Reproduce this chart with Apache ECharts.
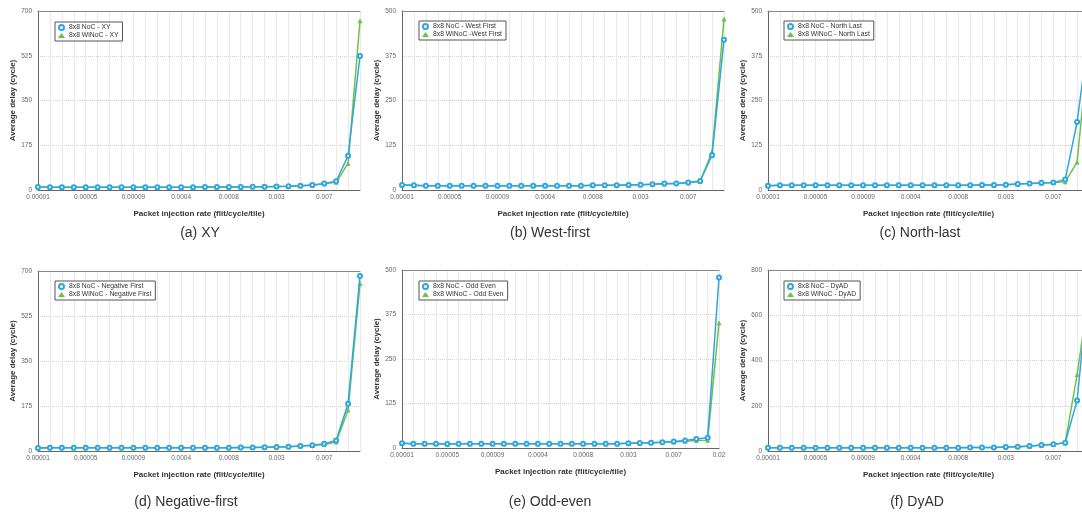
<!DOCTYPE html>
<html>
<head>
<meta charset="utf-8">
<script src="https://cdn.jsdelivr.net/npm/echarts@6/dist/echarts.min.js"></script>
<style>
html,body{margin:0;padding:0;background:#fff;}
#c{width:1082px;height:513px;}
</style>
</head>
<body>
<div id="c"></div>
<script>
// ---- Data ----
const categories = ['0.00001','0.00002','0.00003','0.00004','0.00005','0.00006','0.00007','0.00008','0.00009',
  '0.0001','0.0002','0.0003','0.0004','0.0005','0.0006','0.0007','0.0008','0.0009',
  '0.001','0.002','0.003','0.004','0.005','0.006','0.007','0.008','0.009','0.01','0.02'];

const captions = ['(a) XY','(b) West-first','(c) North-last','(d) Negative-first','(e) Odd-even','(f) DyAD'];

const nocNames   = ['8x8 NoC - XY','8x8 NoC - West First','8x8 NoC - North Last','8x8 NoC - Negative First','8x8 NoC - Odd Even','8x8 NoC - DyAD'];
const winocNames = ['8x8 WiNoC - XY','8x8 WiNoC -West First','8x8 WiNoC - North Last','8x8 WiNoC - Negative First','8x8 WiNoC - Odd Even','8x8 WiNoC - DyAD'];

const yMax      = [700, 500, 500, 700, 500, 800];
const yInterval = [175, 125, 125, 175, 125, 200];
const pointCount = [28, 28, 28, 28, 29, 28];

const nocXY    = [12,11,11,11,11,11,11,11,11,11,11,11,11,11,12,12,12,12,13,13,14,15,17,20,25,34,134,524];
const winocXY  = [12,11,11,11,11,11,11,11,11,11,11,11,11,11,12,12,12,12,13,13,14,15,17,19,24,30,104,662];

const nocWF    = [14,13,12,12,12,12,12,12,12,12,12,12,12,12,12,12,13,13,13,14,15,16,18,18,21,25,97,420];
const winocWF  = [14,13,12,12,12,12,12,12,12,12,12,12,12,12,12,12,13,13,13,14,15,16,17,18,20,24,107,478];

const nocNL    = [12,13,13,13,13,13,13,13,13,13,13,13,13,13,13,13,13,13,14,14,15,17,18,20,21,29,190,440];
const winocNL  = [12,13,13,13,13,13,13,13,13,13,13,13,13,13,13,13,13,13,14,14,15,17,18,19,21,23,78,420];

const nocNF    = [12,13,13,13,13,13,13,13,13,13,13,13,13,13,13,13,13,14,14,15,16,17,19,22,28,41,184,681];
const winocNF  = [12,13,13,13,13,13,13,13,13,13,13,13,13,13,13,13,13,14,14,15,16,17,19,21,25,35,159,651];

const nocOE    = [13,12,12,12,11,12,12,12,12,12,12,12,12,12,12,12,12,12,12,12,13,14,15,16,18,21,25,29,479];
const winocOE  = [13,12,12,12,11,12,12,12,12,12,12,12,12,12,12,12,12,12,12,12,13,14,15,16,17,19,21,22,352];

const nocDY    = [14,14,14,14,14,14,14,14,14,14,14,14,14,14,14,14,14,15,15,16,18,19,22,26,30,37,223,760];
const winocDY  = [14,14,14,14,14,14,14,14,14,14,14,14,14,14,14,14,14,15,15,16,18,19,21,25,29,36,338,700];

const nocData   = [nocXY, nocWF, nocNL, nocNF, nocOE, nocDY];
const winocData = [winocXY, winocWF, winocNL, winocNF, winocOE, winocDY];

// ---- Layout (pixels) ----
const grids = [
  {left:38,  top:11,  width:322, height:179},
  {left:402, top:11,  width:322, height:179},
  {left:768, top:11,  width:321, height:179},
  {left:38,  top:271, width:322, height:180},
  {left:402, top:270, width:317, height:178},
  {left:768, top:270, width:321, height:181}
];
const legendPos = [
  {left:55,  top:22},
  {left:419, top:21},
  {left:784, top:21},
  {left:55,  top:281},
  {left:419, top:281},
  {left:784, top:281}
];
const captionPos = [[200,233],[550,233],[920,233],[186,502],[550,502],[917,502]];

const BLUE = '#2ea6e0';
const GREEN = '#6fc247';
const FONT = '"Liberation Sans", Arial, sans-serif';

const option = {
  backgroundColor:'#fff',
  animation:false,
  grid: grids.map(g => Object.assign({outerBoundsMode:'none', containLabel:false}, g)),
  xAxis: [],
  yAxis: [],
  series: [],
  legend: []
};

for (let i = 0; i < 6; i++) {
  const cats = categories.slice(0, pointCount[i]);
  option.xAxis.push({
    type:'category', gridIndex:i, data:cats, boundaryGap:false,
    axisLine:{show:true, lineStyle:{color:'#666', width:1}},
    axisTick:{show:false},
    axisLabel:{interval:3, fontSize:6.5, color:'#666', margin:4, fontFamily:FONT},
    splitLine:{show:true, interval:0, lineStyle:{color:'#e9e9e9', width:1}},
    name:'Packet injection rate (flit/cycle/tile)', nameLocation:'middle', nameGap:20,
    nameTextStyle:{fontSize:8, fontWeight:'bold', color:'#333', fontFamily:FONT}
  });
  // top border line
  option.xAxis.push({
    type:'category', gridIndex:i, data:cats, boundaryGap:false, position:'top',
    axisLine:{show:true, lineStyle:{color:'#888', width:1}},
    axisTick:{show:false}, axisLabel:{show:false}, splitLine:{show:false}
  });
  option.yAxis.push({
    type:'value', gridIndex:i, min:0, max:yMax[i], interval:yInterval[i],
    axisLine:{show:true, lineStyle:{color:'#666', width:1}},
    axisTick:{show:false},
    axisLabel:{fontSize:6.5, color:'#666', margin:6, fontFamily:FONT},
    splitLine:{show:true, lineStyle:{color:'#d4d4d4', type:'dotted', width:1}},
    name:'Average delay (cycle)', nameLocation:'middle', nameGap:21, nameRotate:90,
    nameTextStyle:{fontSize:8, fontWeight:'bold', color:'#333', fontFamily:FONT}
  });
  option.series.push({
    type:'line', name:winocNames[i], xAxisIndex:2*i, yAxisIndex:i, data:winocData[i],
    symbol:'triangle', symbolSize:5, showAllSymbol:true,
    lineStyle:{color:GREEN, width:1.5}, itemStyle:{color:GREEN}, z:2
  });
  option.series.push({
    type:'line', name:nocNames[i], xAxisIndex:2*i, yAxisIndex:i, data:nocData[i],
    symbol:'emptyCircle', symbolSize:4, showAllSymbol:true,
    lineStyle:{color:BLUE, width:1.5}, itemStyle:{color:BLUE, borderWidth:1.2}, z:3
  });
  option.legend.push({
    left:legendPos[i].left, top:legendPos[i].top, orient:'vertical',
    backgroundColor:'#fff', borderColor:'#555', borderWidth:1,
    padding:[2,4,2,3], itemGap:1, itemWidth:7, itemHeight:5,
    textStyle:{fontSize:6.8, color:'#333', fontFamily:FONT, padding:[0,0,0,-1]},
    selectedMode:false,
    data:[
      {name:nocNames[i], icon:'emptyCircle', itemStyle:{color:BLUE, borderColor:BLUE, borderWidth:1.3}},
      {name:winocNames[i], icon:'triangle', itemStyle:{color:GREEN}}
    ]
  });
}
// captions, absolute positions
option.graphic = captions.map((t, i) => ({
  type:'text', x:captionPos[i][0], y:captionPos[i][1],
  style:{text:t, fill:'#333', font:'14px ' + FONT, textAlign:'center', textVerticalAlign:'middle'}
}));

const chart = echarts.init(document.getElementById('c'), null, {renderer:'canvas'});
chart.setOption(option);
</script>
</body>
</html>
